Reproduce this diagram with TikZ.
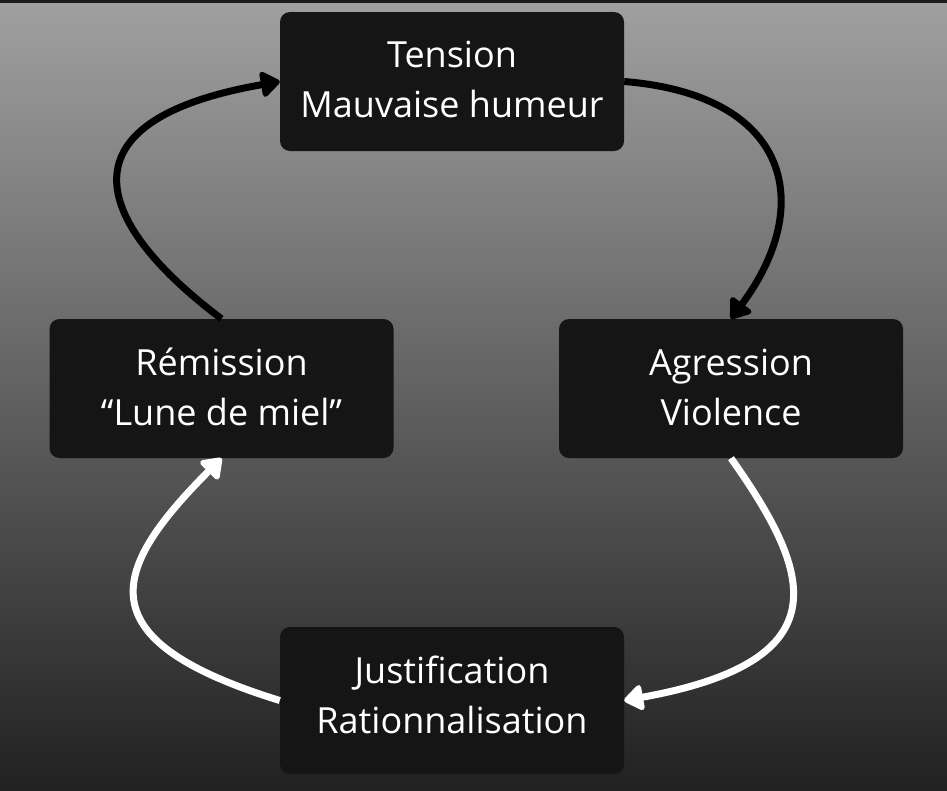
\documentclass[tikz,border=0pt]{standalone}
\usepackage{fontspec}
\setmainfont{Open Sans}
\usetikzlibrary{arrows.meta}
\definecolor{bgtop}{HTML}{A0A0A0}
\definecolor{bgbot}{HTML}{212121}
\definecolor{boxfill}{HTML}{151515}
\definecolor{topstrip}{HTML}{1C1C1C}
\tikzset{
  stagebox/.style={draw=none, fill=boxfill, rounded corners=10pt, text=white,
    minimum width=344pt, minimum height=139pt, align=center, inner sep=0pt,
    font=\fontsize{36}{50}\selectfont},
  cyclearrow/.style={line width=7pt,
    -{Triangle[length=21pt,width=29pt,round]}},
}
\begin{document}
\begin{tikzpicture}[x=1pt,y=-1pt]
\useasboundingbox (0,0) rectangle (947,790);
\shade[top color=bgtop, bottom color=bgbot] (0,0) rectangle (947,790);
\fill[topstrip] (0,0) rectangle (947,2.5);

\node[stagebox] (ten) at (452,81.5) {Tension\\Mauvaise humeur\\[-46pt]\mbox{}};
\node[stagebox] (rem) at (221.5,388.5) {Rémission\\“Lune de miel”\\[-47pt]\mbox{}};
\node[stagebox] (agr) at (731,388.5) {Agression\\Violence\\[-47pt]\mbox{}};
\node[stagebox, minimum height=147pt] (jus) at (452,700.5) {Justification\\Rationnalisation\\[-38pt]\mbox{}};

\draw[cyclearrow, black] (ten.east) .. controls +(166,13.5) and +(85,-114) .. (agr.north);
\draw[cyclearrow, black] (rem.north) .. controls +(-131.5,-99) and +(-220,38.5) .. (ten.west);
\draw[cyclearrow, white] (agr.south) .. controls +(79,112) and +(222,-40) .. (jus.east);
\draw[cyclearrow, white] (jus.west) .. controls +(-196,-60.5) and +(-111.5,112) .. (rem.south);
\end{tikzpicture}
\end{document}
